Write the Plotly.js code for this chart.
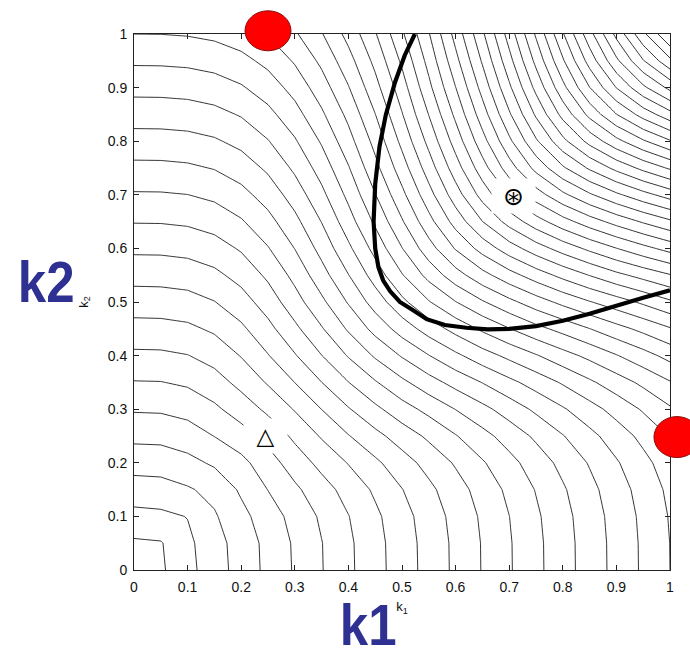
<!DOCTYPE html>
<html>
<head>
<meta charset="utf-8">
<script src="https://cdn.plot.ly/plotly-3.0.1.min.js"></script>
<style>
  html, body { margin: 0; padding: 0; background: #fff; }
  #chart { width: 690px; height: 648px; }
</style>
</head>
<body>
<div id="chart"></div>
<script>
// Sampling grid of the level surface over the (k1, k2) unit square
const gridK1 = [0, 0.05, 0.1, 0.15, 0.2, 0.25, 0.3, 0.35, 0.4, 0.45, 0.5, 0.55, 0.6, 0.65, 0.7, 0.75, 0.8, 0.85, 0.9, 0.95, 1];
const gridK2 = [0, 0.05, 0.1, 0.15, 0.2, 0.25, 0.3, 0.35, 0.4, 0.45, 0.5, 0.55, 0.6, 0.65, 0.7, 0.75, 0.8, 0.85, 0.9, 0.95, 1];

// Level values, one row per k2 value (rows run from k2 = 0 to k2 = 1)
const levelRows = [
  [0.00, 0.85, 1.70, 2.55, 3.40, 4.25, 5.10, 5.95, 6.80, 7.65, 8.50, 9.35, 10.20, 11.05, 11.90, 12.75, 13.60, 14.45, 15.30, 16.15, 17.00],
  [0.85, 0.93, 1.78, 2.61, 3.44, 4.28, 5.13, 5.97, 6.82, 7.67, 8.52, 9.37, 10.21, 11.06, 11.91, 12.76, 13.61, 14.46, 15.31, 16.16, 17.01],
  [1.70, 1.78, 2.03, 2.89, 3.71, 4.52, 5.33, 6.15, 6.97, 7.80, 8.63, 9.47, 10.31, 11.15, 11.99, 12.84, 13.68, 14.53, 15.37, 16.22, 17.07],
  [2.55, 2.61, 2.89, 3.29, 4.15, 5.02, 5.81, 6.59, 7.37, 8.16, 8.97, 9.77, 10.58, 11.40, 12.22, 13.05, 13.88, 14.71, 15.55, 16.38, 17.22],
  [3.40, 3.44, 3.71, 4.15, 4.72, 5.58, 6.47, 7.29, 8.05, 8.81, 9.58, 10.34, 11.11, 11.90, 12.69, 13.48, 14.28, 15.08, 15.90, 16.71, 17.53],
  [4.25, 4.28, 4.52, 5.02, 5.58, 6.31, 7.21, 8.10, 8.95, 9.71, 10.46, 11.19, 11.94, 12.68, 13.42, 14.18, 14.95, 15.72, 16.49, 17.27, 18.06],
  [5.10, 5.13, 5.33, 5.81, 6.47, 7.21, 8.07, 9.01, 9.92, 10.77, 11.59, 12.29, 13.02, 13.72, 14.45, 15.19, 15.89, 16.62, 17.36, 18.11, 18.87],
  [5.95, 5.97, 6.15, 6.59, 7.29, 8.10, 9.01, 9.99, 10.98, 11.91, 12.78, 13.60, 14.34, 15.03, 15.74, 16.42, 17.11, 17.83, 18.53, 19.22, 19.93],
  [6.80, 6.82, 6.97, 7.37, 8.05, 8.95, 9.92, 10.98, 12.08, 13.13, 14.09, 14.97, 15.79, 16.57, 17.25, 17.92, 18.62, 19.26, 19.94, 20.62, 21.33],
  [7.65, 7.67, 7.80, 8.16, 8.81, 9.71, 10.77, 11.91, 13.13, 14.33, 15.44, 16.44, 17.34, 18.18, 18.96, 19.70, 20.32, 20.98, 21.65, 22.27, 22.91],
  [8.50, 8.52, 8.63, 8.97, 9.58, 10.46, 11.59, 12.78, 14.09, 15.44, 16.75, 17.93, 18.97, 19.90, 20.74, 21.53, 22.27, 22.94, 23.55, 24.18, 24.84],
  [9.35, 9.37, 9.47, 9.77, 10.34, 11.19, 12.29, 13.60, 14.97, 16.44, 17.93, 19.33, 20.58, 21.66, 22.62, 23.49, 24.29, 25.03, 25.74, 26.34, 26.93],
  [10.20, 10.21, 10.31, 10.58, 11.11, 11.94, 13.02, 14.34, 15.79, 17.34, 18.97, 20.58, 22.08, 23.39, 24.53, 25.53, 26.42, 27.23, 27.98, 28.69, 29.36],
  [11.05, 11.06, 11.15, 11.40, 11.90, 12.68, 13.72, 15.03, 16.57, 18.18, 19.90, 21.66, 23.39, 24.99, 26.38, 27.57, 28.61, 29.53, 30.36, 31.12, 31.82],
  [11.90, 11.91, 11.99, 12.22, 12.69, 13.42, 14.45, 15.74, 17.25, 18.96, 20.74, 22.62, 24.53, 26.38, 28.07, 29.53, 30.78, 31.86, 32.81, 33.66, 34.43],
  [12.75, 12.76, 12.84, 13.05, 13.48, 14.18, 15.19, 16.42, 17.92, 19.70, 21.53, 23.49, 25.53, 27.57, 29.53, 31.31, 32.85, 34.15, 35.28, 36.27, 37.14],
  [13.60, 13.61, 13.68, 13.88, 14.28, 14.95, 15.89, 17.11, 18.62, 20.32, 22.27, 24.29, 26.42, 28.61, 30.78, 32.85, 34.72, 36.33, 37.70, 38.87, 39.90],
  [14.45, 14.46, 14.53, 14.71, 15.08, 15.72, 16.62, 17.83, 19.26, 20.98, 22.94, 25.03, 27.23, 29.53, 31.86, 34.15, 36.33, 38.29, 39.98, 41.41, 42.64],
  [15.30, 15.31, 15.37, 15.55, 15.90, 16.49, 17.36, 18.53, 19.94, 21.65, 23.55, 25.74, 27.98, 30.36, 32.81, 35.28, 37.70, 39.98, 42.03, 43.79, 45.28],
  [16.15, 16.16, 16.22, 16.38, 16.71, 17.27, 18.11, 19.22, 20.62, 22.27, 24.18, 26.34, 28.69, 31.12, 33.66, 36.27, 38.87, 41.41, 43.79, 45.93, 47.77],
  [17.00, 17.01, 17.07, 17.22, 17.53, 18.06, 18.87, 19.93, 21.33, 22.91, 24.84, 26.93, 29.36, 31.82, 34.43, 37.14, 39.90, 42.64, 45.28, 47.77, 50.00]
];

// Heavy boundary curve
const boundaryK1 = [0.524, 0.505, 0.487, 0.470, 0.458, 0.450, 0.447, 0.450, 0.456, 0.465, 0.478, 0.496, 0.520, 0.546, 0.580, 0.620, 0.660, 0.700, 0.750, 0.800, 0.850, 0.900, 0.950, 1.000];
const boundaryK2 = [1.000, 0.960, 0.910, 0.850, 0.790, 0.720, 0.650, 0.600, 0.565, 0.540, 0.520, 0.500, 0.485, 0.468, 0.457, 0.452, 0.449, 0.450, 0.455, 0.465, 0.478, 0.494, 0.508, 0.522];

// Red disks sitting on the border of the square
const diskK1 = [0.25, 1.013];
const diskK2 = [1.006, 0.248];

// Symbol markers (triangle and circled asterisk)
const symbolK1 = [0.245, 0.708];
const symbolK2 = [0.250, 0.697];
const symbolText = ['\u25B3', '\u229B'];

// Axis ticks
const tickVals = [0, 0.1, 0.2, 0.3, 0.4, 0.5, 0.6, 0.7, 0.8, 0.9, 1];
const tickText = ['0', '0.1', '0.2', '0.3', '0.4', '0.5', '0.6', '0.7', '0.8', '0.9', '1'];

const xRange = [0, 1];
const yRange = [0, 1];
const tickFont = { family: 'Liberation Sans, Arial, sans-serif', size: 14, color: '#111' };
const titleFont = { family: 'Liberation Sans, Arial, sans-serif', size: 13, color: '#111' };
const bigFont = { family: 'Liberation Sans, Arial, sans-serif', size: 58, color: '#2e3192', weight: 'bold' };

const traces = [
  {
    type: 'contour',
    x: gridK1,
    y: gridK2,
    z: levelRows,
    contours: { coloring: 'none', start: 1, end: 49, size: 1, showlabels: false },
    line: { color: '#000', width: 0.8, smoothing: 0 },
    showscale: false,
    hoverinfo: 'skip'
  },
  {
    type: 'scatter',
    mode: 'lines',
    x: boundaryK1,
    y: boundaryK2,
    line: { color: '#000', width: 4.2 },
    hoverinfo: 'skip'
  }
];

function frac(v, r) { return (v - r[0]) / (r[1] - r[0]); }

const shapes = [
  {
    type: 'circle', layer: 'above',
    xref: 'x', yref: 'paper',
    xsizemode: 'pixel', ysizemode: 'pixel',
    xanchor: diskK1[0], yanchor: frac(diskK2[0], yRange),
    x0: -23, x1: 23, y0: -20, y1: 20,
    fillcolor: '#ff0000', line: { color: '#8a0c0c', width: 1 }
  },
  {
    type: 'circle', layer: 'above',
    xref: 'paper', yref: 'y',
    xsizemode: 'pixel', ysizemode: 'pixel',
    xanchor: frac(diskK1[1], xRange), yanchor: diskK2[1],
    x0: -23, x1: 23, y0: -20.5, y1: 20.5,
    fillcolor: '#ff0000', line: { color: '#8a0c0c', width: 1 }
  }
];

const annotations = [
  {
    x: symbolK1[0], y: symbolK2[0], xref: 'x', yref: 'y', text: symbolText[0],
    showarrow: false, bgcolor: '#fff', width: 43, height: 34, borderpad: 0,
    font: { family: 'DejaVu Sans, sans-serif', size: 23, color: '#000' }
  },
  {
    x: symbolK1[1], y: symbolK2[1], xref: 'x', yref: 'y', text: symbolText[1],
    showarrow: false, bgcolor: '#fff', width: 43, height: 34, borderpad: 0,
    font: { family: 'DejaVu Sans, sans-serif', size: 25, color: '#000' }
  },
  {
    x: -0.1636, y: 0.5379, xref: 'paper', yref: 'paper', text: 'k2',
    showarrow: false, xanchor: 'center', yanchor: 'middle', font: bigFont
  },
  {
    x: 0.4371, y: -0.0896, xref: 'paper', yref: 'paper', text: 'k1',
    showarrow: false, xanchor: 'center', yanchor: 'middle', height: 53, valign: 'top',
    font: bigFont
  }
];

const axisCommon = {
  tickvals: tickVals, ticktext: tickText,
  ticks: 'inside', ticklen: 5, tickwidth: 1, tickcolor: '#222',
  showline: true, linecolor: '#222', linewidth: 1, mirror: 'ticks',
  showgrid: false, zeroline: false, tickfont: tickFont, fixedrange: true
};

const layout = {
  width: 690, height: 648,
  margin: { l: 134, r: 20, t: 34, b: 78, pad: 0 },
  paper_bgcolor: '#fff', plot_bgcolor: '#fff',
  showlegend: false,
  xaxis: Object.assign({}, axisCommon, {
    range: xRange, ticklabelstandoff: 4,
    title: { text: 'k<sub>1</sub>', font: titleFont, standoff: 8 }
  }),
  yaxis: Object.assign({}, axisCommon, {
    range: yRange, ticklabelstandoff: 3,
    title: { text: 'k<sub>2</sub>', font: titleFont, standoff: 16 }
  }),
  shapes: shapes,
  annotations: annotations
};

Plotly.newPlot('chart', traces, layout, { staticPlot: true, displayModeBar: false }).then(function (gd) {
  // The two large axis names use a slightly condensed bold face
  gd.querySelectorAll('.annotation').forEach(function (g) {
    var idx = +g.getAttribute('data-index');
    if (idx >= 2) {
      var t = g.querySelector('text');
      if (t) {
        t.style.transformBox = 'fill-box';
        t.style.transformOrigin = 'center';
        t.style.transform = 'scaleX(0.88)';
      }
    }
  });
});
</script>
</body>
</html>
